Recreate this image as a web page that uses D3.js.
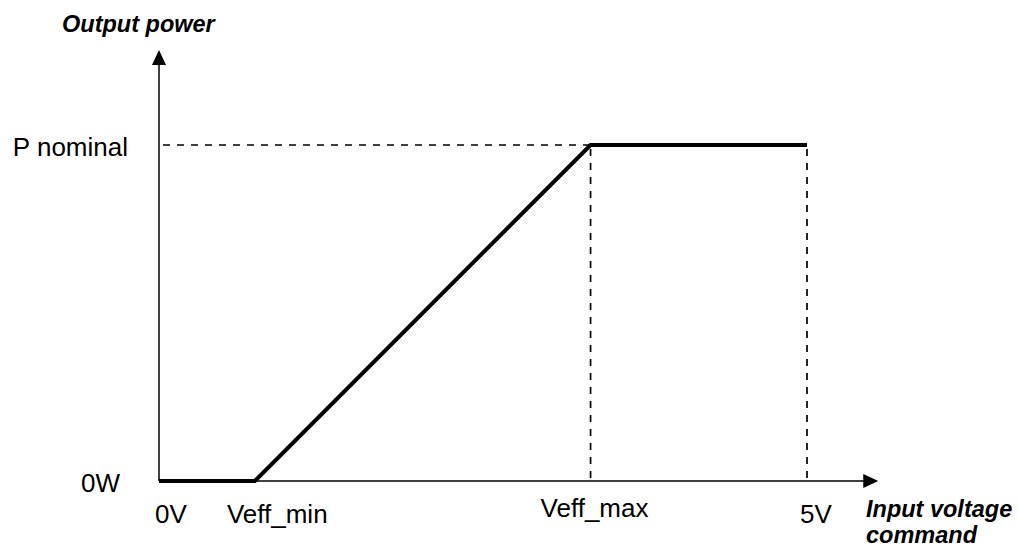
<!DOCTYPE html>
<html><head><meta charset="utf-8">
<script src="https://cdn.jsdelivr.net/npm/d3@7"></script>
<style>body{margin:0;background:#fff}svg{display:block}text{font-family:Arial,"Liberation Sans",sans-serif;fill:#000}</style>
</head><body>
<script>
const xTickLabels = ["0V", "Veff_min", "Veff_max", "5V"];
const xTickValues = [0, 0.74, 3.33, 5];
const yTickLabels = ["0W", "P nominal"];
const yTickValues = [0, 1];
const curveX = [0, 0.74, 3.33, 5];
const curveY = [0, 0, 1, 1];

const W = 1018, H = 547;
const svg = d3.select("body").append("svg").attr("width", W).attr("height", H);
const x = d3.scaleLinear().domain([0, 5]).range([159, 807]);
const y = d3.scaleLinear().domain([0, 1]).range([481, 145]);
const xMax = 5.55, yMax = 1.283;

// dashed guides
const dash = "7,7";
svg.append("line").attr("x1", x(0) + 4).attr("x2", x(xTickValues[2])).attr("y1", y(1)).attr("y2", y(1))
  .attr("stroke", "#000").attr("stroke-width", 1.7).attr("stroke-dasharray", dash);
[xTickValues[2], xTickValues[3]].forEach(v => {
  svg.append("line").attr("x1", x(v)).attr("x2", x(v)).attr("y1", y(1) + 4).attr("y2", y(0))
    .attr("stroke", "#000").attr("stroke-width", 1.7).attr("stroke-dasharray", dash);
});

// axes
svg.append("line").attr("x1", x(0)).attr("x2", x(xMax) - 14).attr("y1", y(0)).attr("y2", y(0))
  .attr("stroke", "#000").attr("stroke-width", 1.5);
svg.append("line").attr("x1", x(0)).attr("x2", x(0)).attr("y1", y(0)).attr("y2", y(yMax) + 14)
  .attr("stroke", "#000").attr("stroke-width", 1.5);
svg.append("path").attr("d", `M${x(xMax)},${y(0)} L${x(xMax)-15},${y(0)-7} L${x(xMax)-15},${y(0)+7} Z`).attr("fill", "#000");
svg.append("path").attr("d", `M${x(0)},${y(yMax)} L${x(0)-7},${y(yMax)+15} L${x(0)+7},${y(yMax)+15} Z`).attr("fill", "#000");

// curve
const pts = curveX.map((v, i) => [v, curveY[i]]);
svg.append("path").datum(pts)
  .attr("d", d3.line().x(d => x(d[0])).y(d => y(d[1])))
  .attr("fill", "none").attr("stroke", "#000").attr("stroke-width", 4).attr("stroke-linejoin", "miter");

// x tick labels
const xLabelPos = [{off: -4, by: 523}, {off: -28, by: 523}, {off: -50, by: 517}, {off: -7, by: 523}];
xTickLabels.forEach((t, i) => {
  svg.append("text").attr("x", x(xTickValues[i]) + xLabelPos[i].off).attr("y", xLabelPos[i].by)
    .attr("font-size", 26).text(t);
});
// y tick labels
svg.append("text").attr("x", 120).attr("y", 492).attr("text-anchor", "end").attr("font-size", 26).text(yTickLabels[0]);
svg.append("text").attr("x", 128).attr("y", 156).attr("text-anchor", "end").attr("font-size", 26).text(yTickLabels[1]);

// axis titles
const tfs = 23.5;
svg.append("text").attr("x", 62).attr("y", 32).attr("font-size", tfs).attr("font-weight", "bold").attr("font-style", "italic").text("Output power");
svg.append("text").attr("x", 866).attr("y", 517).attr("font-size", tfs).attr("font-weight", "bold").attr("font-style", "italic").text("Input voltage");
svg.append("text").attr("x", 866).attr("y", 543).attr("font-size", tfs).attr("font-weight", "bold").attr("font-style", "italic").text("command");
</script>
</body></html>
